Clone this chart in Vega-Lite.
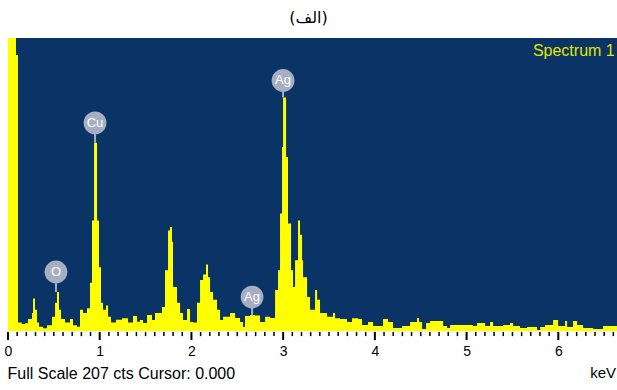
{
  "$schema": "https://vega.github.io/schema/vega-lite/v6.json",
  "autosize": "none",
  "width": 609,
  "height": 293,
  "padding": {"left": 8, "top": 38, "right": 0, "bottom": 59},
  "background": "white",
  "config": {"view": {"fill": "#093465", "stroke": null}, "font": "Liberation Sans"},
  "title": {"text": "(الف)", "font": "DejaVu Sans", "fontSize": 16, "fontWeight": "normal", "color": "black", "offset": 12, "anchor": "middle", "dx": -4},
  "datasets": {
    "spec": [
      {"e": 0.000, "c": 400}, {"e": 0.087, "c": 195}, {"e": 0.109, "c": 6}, {"e": 0.150, "c": 5},
      {"e": 0.185, "c": 5.5}, {"e": 0.218, "c": 8.5}, {"e": 0.262, "c": 12.7}, {"e": 0.273, "c": 23},
      {"e": 0.294, "c": 15}, {"e": 0.316, "c": 6}, {"e": 0.338, "c": 3}, {"e": 0.382, "c": 2},
      {"e": 0.425, "c": 4}, {"e": 0.480, "c": 10}, {"e": 0.513, "c": 20}, {"e": 0.534, "c": 27.5},
      {"e": 0.556, "c": 15}, {"e": 0.578, "c": 8.5}, {"e": 0.622, "c": 6}, {"e": 0.676, "c": 8.5},
      {"e": 0.709, "c": 4}, {"e": 0.752, "c": 3}, {"e": 0.785, "c": 15}, {"e": 0.818, "c": 12.7},
      {"e": 0.861, "c": 16}, {"e": 0.894, "c": 34}, {"e": 0.916, "c": 78}, {"e": 0.938, "c": 133},
      {"e": 0.971, "c": 78}, {"e": 0.992, "c": 45}, {"e": 1.014, "c": 20}, {"e": 1.036, "c": 15},
      {"e": 1.069, "c": 18}, {"e": 1.091, "c": 10}, {"e": 1.123, "c": 6}, {"e": 1.178, "c": 8},
      {"e": 1.243, "c": 9}, {"e": 1.309, "c": 6}, {"e": 1.363, "c": 10.6}, {"e": 1.407, "c": 6.5},
      {"e": 1.439, "c": 7.8}, {"e": 1.472, "c": 5.7}, {"e": 1.516, "c": 11.3}, {"e": 1.570, "c": 7.8},
      {"e": 1.603, "c": 12.7}, {"e": 1.679, "c": 17}, {"e": 1.712, "c": 43}, {"e": 1.745, "c": 71},
      {"e": 1.767, "c": 73.5}, {"e": 1.788, "c": 63}, {"e": 1.799, "c": 31}, {"e": 1.843, "c": 20},
      {"e": 1.876, "c": 12.7}, {"e": 1.908, "c": 7.8}, {"e": 1.952, "c": 15.5}, {"e": 1.985, "c": 6.4},
      {"e": 2.017, "c": 6}, {"e": 2.061, "c": 20}, {"e": 2.094, "c": 36}, {"e": 2.127, "c": 40},
      {"e": 2.159, "c": 47}, {"e": 2.181, "c": 38}, {"e": 2.203, "c": 27.5}, {"e": 2.236, "c": 22},
      {"e": 2.279, "c": 15}, {"e": 2.312, "c": 7.8}, {"e": 2.345, "c": 10}, {"e": 2.421, "c": 12.7},
      {"e": 2.476, "c": 9.2}, {"e": 2.530, "c": 6.4}, {"e": 2.563, "c": 2.8}, {"e": 2.584, "c": 10.6},
      {"e": 2.639, "c": 11.3}, {"e": 2.694, "c": 11}, {"e": 2.748, "c": 6.4}, {"e": 2.803, "c": 10},
      {"e": 2.857, "c": 9.2}, {"e": 2.912, "c": 29}, {"e": 2.944, "c": 43}, {"e": 2.966, "c": 83},
      {"e": 2.988, "c": 130}, {"e": 2.999, "c": 165}, {"e": 3.032, "c": 123}, {"e": 3.053, "c": 76},
      {"e": 3.086, "c": 43}, {"e": 3.108, "c": 31}, {"e": 3.130, "c": 50}, {"e": 3.162, "c": 78},
      {"e": 3.184, "c": 68}, {"e": 3.206, "c": 50}, {"e": 3.217, "c": 38}, {"e": 3.261, "c": 24},
      {"e": 3.293, "c": 15}, {"e": 3.348, "c": 29}, {"e": 3.370, "c": 22}, {"e": 3.402, "c": 12.7},
      {"e": 3.479, "c": 10}, {"e": 3.544, "c": 12.7}, {"e": 3.566, "c": 9}, {"e": 3.620, "c": 8.5},
      {"e": 3.697, "c": 6.4}, {"e": 3.751, "c": 9}, {"e": 3.817, "c": 8.5}, {"e": 3.860, "c": 4.2},
      {"e": 3.926, "c": 6.4}, {"e": 3.980, "c": 3.5}, {"e": 4.089, "c": 8.5}, {"e": 4.144, "c": 6.4},
      {"e": 4.198, "c": 2.1}, {"e": 4.297, "c": 3.5}, {"e": 4.384, "c": 6.4}, {"e": 4.460, "c": 9.2},
      {"e": 4.482, "c": 6.4}, {"e": 4.515, "c": 1.4}, {"e": 4.558, "c": 5.7}, {"e": 4.602, "c": 7.1},
      {"e": 4.744, "c": 3.5}, {"e": 4.787, "c": 2.1}, {"e": 4.820, "c": 4.2}, {"e": 5.071, "c": 3.5},
      {"e": 5.114, "c": 5.7}, {"e": 5.202, "c": 3.5}, {"e": 5.256, "c": 6.4}, {"e": 5.289, "c": 3.5},
      {"e": 5.398, "c": 4.2}, {"e": 5.474, "c": 5.7}, {"e": 5.507, "c": 3.5}, {"e": 5.583, "c": 2.1},
      {"e": 5.660, "c": 2.8}, {"e": 5.769, "c": 0.7}, {"e": 5.802, "c": 2.8}, {"e": 5.856, "c": 4.2},
      {"e": 5.943, "c": 7.8}, {"e": 5.998, "c": 3.5}, {"e": 6.052, "c": 3.5}, {"e": 6.074, "c": 7.1},
      {"e": 6.096, "c": 2.8}, {"e": 6.161, "c": 7.1}, {"e": 6.205, "c": 4.2}, {"e": 6.270, "c": 2.1},
      {"e": 6.379, "c": 1.4}, {"e": 6.488, "c": 3.5}, {"e": 6.640, "c": 3.5}
    ],
    "labels": [
      {"e": 0.949, "c": 147, "p": 133, "t": "Cu"},
      {"e": 0.523, "c": 41.7, "p": 27.5, "t": "O"},
      {"e": 2.999, "c": 177, "p": 165, "t": "Ag"},
      {"e": 2.661, "c": 24, "p": 11, "t": "Ag"}
    ],
    "major": [{"v": 0}, {"v": 1}, {"v": 2}, {"v": 3}, {"v": 4}, {"v": 5}, {"v": 6}],
    "minor": [
      {"v": 0.1},{"v": 0.2},{"v": 0.3},{"v": 0.4},{"v": 0.5},{"v": 0.6},{"v": 0.7},{"v": 0.8},{"v": 0.9},
      {"v": 1.1},{"v": 1.2},{"v": 1.3},{"v": 1.4},{"v": 1.5},{"v": 1.6},{"v": 1.7},{"v": 1.8},{"v": 1.9},
      {"v": 2.1},{"v": 2.2},{"v": 2.3},{"v": 2.4},{"v": 2.5},{"v": 2.6},{"v": 2.7},{"v": 2.8},{"v": 2.9},
      {"v": 3.1},{"v": 3.2},{"v": 3.3},{"v": 3.4},{"v": 3.5},{"v": 3.6},{"v": 3.7},{"v": 3.8},{"v": 3.9},
      {"v": 4.1},{"v": 4.2},{"v": 4.3},{"v": 4.4},{"v": 4.5},{"v": 4.6},{"v": 4.7},{"v": 4.8},{"v": 4.9},
      {"v": 5.1},{"v": 5.2},{"v": 5.3},{"v": 5.4},{"v": 5.5},{"v": 5.6},{"v": 5.7},{"v": 5.8},{"v": 5.9},
      {"v": 6.1},{"v": 6.2},{"v": 6.3},{"v": 6.4},{"v": 6.5},{"v": 6.6}
    ]
  },
  "layer": [
    {
      "data": {"name": "spec"},
      "mark": {"type": "area", "interpolate": "step-after", "color": "#ffff00", "clip": true},
      "encoding": {
        "x": {
          "field": "e", "type": "quantitative",
          "scale": {"domain": [0, 6.64], "nice": false, "zero": false},
          "axis": {
            "orient": "bottom",
            "values": [0, 1, 2, 3, 4, 5, 6],
            "format": "d",
            "ticks": false,
            "domain": false,
            "grid": false,
            "labelFontSize": 14,
            "labelColor": "black",
            "labelFont": "Liberation Sans",
            "labelPadding": 13,
            "labelFlush": false,
            "labelOverlap": false,
            "title": "Full Scale 207 cts Cursor: 0.000",
            "titleAnchor": "start",
            "titleAlign": "left",
            "titleX": -1,
            "titleY": 47,
            "titleBaseline": "alphabetic",
            "titleFont": "Liberation Sans",
            "titleFontWeight": "normal",
            "titleFontSize": 16,
            "titleColor": "black"
          }
        },
        "y": {"field": "c", "type": "quantitative", "scale": {"domain": [0, 207], "nice": false}, "axis": null}
      }
    },
    {
      "data": {"name": "major"},
      "mark": {"type": "rule", "color": "#000000", "strokeWidth": 2, "clip": false},
      "encoding": {
        "x": {"field": "v", "type": "quantitative"},
        "y": {"datum": -0.7, "type": "quantitative"},
        "y2": {"datum": -6.4}
      }
    },
    {
      "data": {"name": "minor"},
      "mark": {"type": "rule", "color": "#000000", "strokeWidth": 1.5, "clip": false},
      "encoding": {
        "x": {"field": "v", "type": "quantitative"},
        "y": {"datum": -0.7, "type": "quantitative"},
        "y2": {"datum": -3.6}
      }
    },
    {
      "data": {"name": "labels"},
      "mark": {"type": "rule", "color": "#a6afc2", "strokeWidth": 2},
      "encoding": {
        "x": {"field": "e", "type": "quantitative"},
        "y": {"field": "c", "type": "quantitative"},
        "y2": {"field": "p"}
      }
    },
    {
      "data": {"name": "labels"},
      "mark": {"type": "point", "filled": true, "shape": "circle", "size": 520, "color": "#a6afc2", "opacity": 1},
      "encoding": {
        "x": {"field": "e", "type": "quantitative"},
        "y": {"field": "c", "type": "quantitative"}
      }
    },
    {
      "data": {"name": "labels"},
      "mark": {"type": "text", "color": "white", "fontSize": 13, "font": "Liberation Sans", "baseline": "middle", "align": "center"},
      "encoding": {
        "x": {"field": "e", "type": "quantitative"},
        "y": {"field": "c", "type": "quantitative"},
        "text": {"field": "t"}
      }
    },
    {
      "data": {"values": [{"t": "Spectrum 1"}]},
      "mark": {"type": "text", "color": "#e4e400", "fontSize": 16, "font": "Liberation Sans", "align": "right", "baseline": "middle"},
      "encoding": {
        "x": {"datum": 6.615, "type": "quantitative"},
        "y": {"datum": 198, "type": "quantitative"},
        "text": {"field": "t"}
      }
    },
    {
      "data": {"values": [{"t": "keV"}]},
      "mark": {"type": "text", "color": "black", "fontSize": 15, "font": "Liberation Sans", "align": "right", "baseline": "middle"},
      "encoding": {
        "x": {"datum": 6.63, "type": "quantitative"},
        "y": {"datum": -29.5, "type": "quantitative"},
        "text": {"field": "t"}
      }
    }
  ]
}
